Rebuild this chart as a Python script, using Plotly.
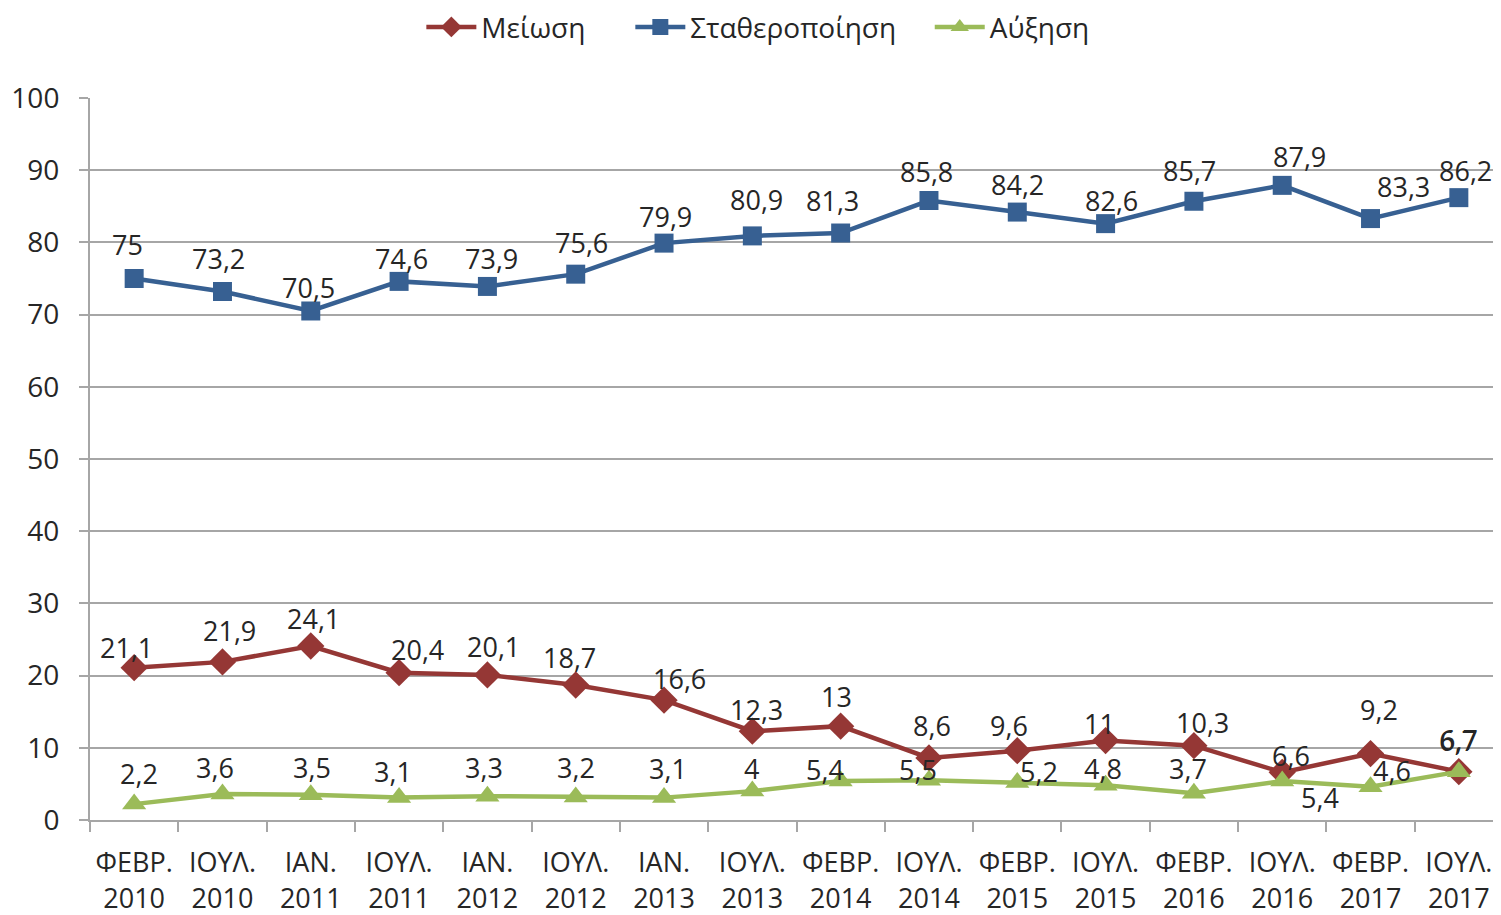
import plotly.graph_objects as go

# survey waves
months = ["ΦΕΒΡ.", "ΙΟΥΛ.", "ΙΑΝ.", "ΙΟΥΛ.", "ΙΑΝ.", "ΙΟΥΛ.", "ΙΑΝ.", "ΙΟΥΛ.",
          "ΦΕΒΡ.", "ΙΟΥΛ.", "ΦΕΒΡ.", "ΙΟΥΛ.", "ΦΕΒΡ.", "ΙΟΥΛ.", "ΦΕΒΡ.", "ΙΟΥΛ."]
years = ["2010", "2010", "2011", "2011", "2012", "2012", "2013", "2013",
         "2014", "2014", "2015", "2015", "2016", "2016", "2017", "2017"]
categories = [f"{m}<br>{y}" for m, y in zip(months, years)]

meiosi = [21.1, 21.9, 24.1, 20.4, 20.1, 18.7, 16.6, 12.3, 13, 8.6, 9.6, 11, 10.3, 6.6, 9.2, 6.7]
stathero = [75, 73.2, 70.5, 74.6, 73.9, 75.6, 79.9, 80.9, 81.3, 85.8, 84.2, 82.6, 85.7, 87.9, 83.3, 86.2]
afxisi = [2.2, 3.6, 3.5, 3.1, 3.3, 3.2, 3.1, 4, 5.4, 5.5, 5.2, 4.8, 3.7, 5.4, 4.6, 6.7]

FONT = "Open Sans"
TXT = "#262626"
GRID = "#a6a6a6"

# label offsets (px) from each point, as Excel placed them
red_dx = [-8, 7, 3, 18, 6, -6, 15, 4, -4, 3, -8, -6, 9, 9, 8, 0]
red_dy = [20, 31, 28, 23, 28, 27, 22, 22, 30, 32, 25, 17, 23, 17, 44, 32]
blue_dx = [-7, -4, -2, 2, 4, 6, 1, 4, -8, -2, 0, 6, -4, 17, 33, 7]
blue_dy = [34, 33, 23, 23, 28, 32, 27, 36, 33, 29, 28, 23, 31, 29, 32, 27]
green_dx = [5, -7, 1, -6, -3, 0, 4, -1, -16, -11, 22, -3, -6, 38, 21, -1]
green_dy = [31, 27, 27, 26, 29, 29, 29, 23, 12, 11, 11, 17, 25, -16, 16, 31]


def lbl(vals):
    return [f"{v:g}".replace(".", ",") for v in vals]


series = [
    ("Μείωση", meiosi, "#953735", "diamond", 21, red_dx, red_dy, "legend", 0.2345),
    ("Σταθεροποίηση", stathero, "#376092", "square", 19, blue_dx, blue_dy, "legend2", 0.3824),
    ("Αύξηση", afxisi, "#9BBB59", "triangle-up", 21, green_dx, green_dy, "legend3", 0.5943),
]

fig = go.Figure()
legends = {}
for name, vals, color, symbol, msize, dx, dy, leg, lx in series:
    fig.add_trace(go.Scatter(
        x=categories, y=vals, name=name, mode="lines+markers",
        line=dict(color=color, width=4.5),
        marker=dict(symbol=symbol, size=msize, color=color),
        cliponaxis=False, legend=leg,
    ))
    legends[leg] = dict(x=lx, xanchor="left", y=0.979, yanchor="middle", yref="container",
                        font=dict(family=FONT, size=28, color=TXT), itemwidth=50,
                        bgcolor="rgba(0,0,0,0)")
    for c, v, t, sx, sy in zip(categories, vals, lbl(vals), dx, dy):
        fig.add_annotation(x=c, y=v, text=t, showarrow=False, xshift=sx, yshift=sy,
                           xanchor="center", yanchor="middle",
                           font=dict(family=FONT, size=27, color=TXT))

fig.update_layout(
    width=1501, height=915,
    margin=dict(l=82, r=6, t=90, b=103),
    paper_bgcolor="white", plot_bgcolor="white",
    font=dict(family=FONT, size=27, color=TXT),
    showlegend=True,
    xaxis=dict(type="category", range=[-0.5, 15.5], showgrid=False, automargin=False,
               showline=True, linecolor=GRID, linewidth=2,
               ticks="outside", tickson="boundaries", ticklen=10, tickcolor=GRID,
               tickwidth=2, ticklabelstandoff=18, tickfont=dict(size=27, color=TXT)),
    yaxis=dict(range=[0, 100], dtick=10, showgrid=True, gridcolor=GRID, gridwidth=2,
               showline=True, linecolor=GRID, linewidth=2, zeroline=False, automargin=False,
               ticks="outside", ticklen=9, tickcolor=GRID, tickwidth=2,
               ticklabelstandoff=14, tickfont=dict(size=28, color=TXT)),
    **legends,
)

fig.write_html("out.html")
